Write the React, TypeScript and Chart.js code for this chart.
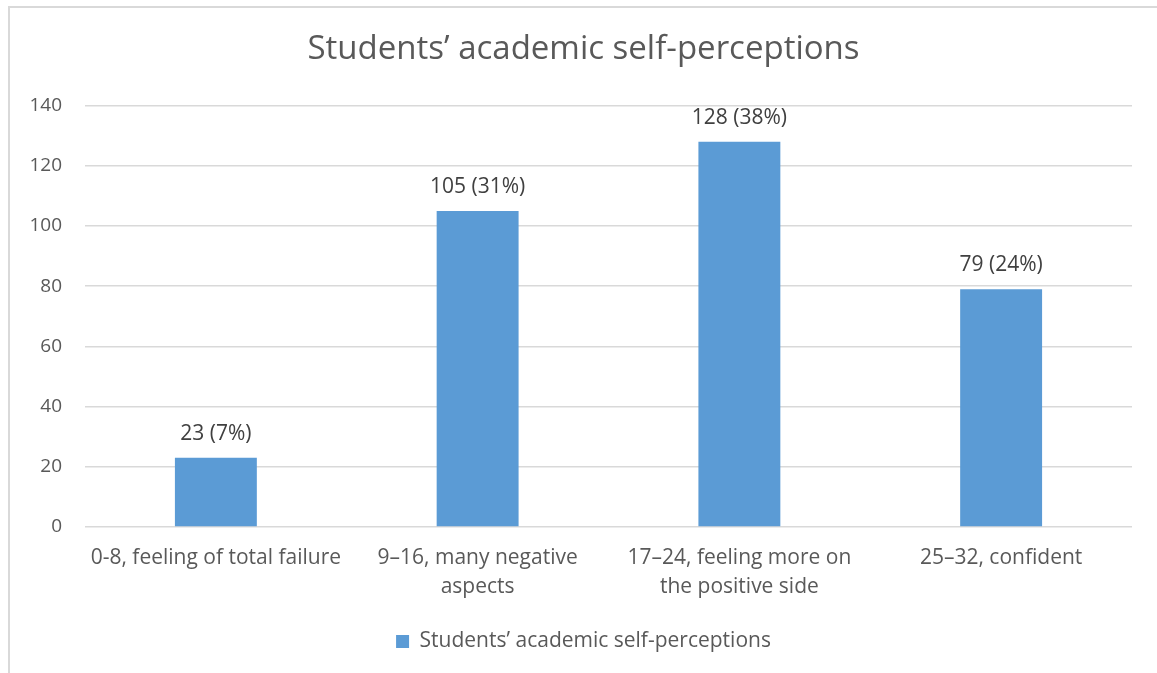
import React, { useEffect, useRef } from "react";
import { Chart, registerables } from "chart.js";

Chart.register(...registerables);

// Score bands (x-axis labels, wrapped onto lines)
const categories: string[][] = [
  ["0-8, feeling of total failure"],
  ["9–16, many negative", "aspects"],
  ["17–24, feeling more on", "the positive side"],
  ["25–32, confident"],
];

const seriesName = "Students’ academic self-perceptions";
const chartTitle = "Students’ academic self-perceptions";

// Number of students in each band
const counts = [23, 105, 128, 79];

// Value-axis range
const yMin = 0;
const yMax = 140;
const yStep = 20;

const FONT = "'Open Sans', sans-serif";
const TEXT = "#595959";
const LABEL = "#404040";
const BAR = "#5B9BD5";
const GRID = "#D9D9D9";
const TEXT_SIZE = 21;
const TICK_SIZE = 19;

// Draws "count (share%)" above each bar
const valueLabels = {
  id: "valueLabels",
  afterDatasetsDraw(chart: any) {
    const { ctx } = chart;
    const total = counts.reduce((a, b) => a + b, 0);
    const meta = chart.getDatasetMeta(0);
    ctx.save();
    ctx.font = `${TEXT_SIZE}px ${FONT}`;
    ctx.fillStyle = LABEL;
    ctx.textAlign = "center";
    ctx.textBaseline = "alphabetic";
    meta.data.forEach((bar: any, i: number) => {
      const v = counts[i];
      const pct = Math.round((v / total) * 100);
      ctx.fillText(`${v} (${pct}%)`, bar.x, bar.y - 18);
    });
    ctx.restore();
  },
};

export default function App() {
  const canvasRef = useRef<HTMLCanvasElement | null>(null);

  useEffect(() => {
    if (!canvasRef.current) return;
    const chart = new Chart(canvasRef.current, {
      type: "bar",
      data: {
        labels: categories,
        datasets: [
          {
            label: seriesName,
            data: counts,
            backgroundColor: BAR,
            borderWidth: 0,
            categoryPercentage: 1,
            barPercentage: 0.313,
          },
        ],
      },
      options: {
        responsive: false,
        animation: false,
        layout: { padding: { left: 0, right: 0, top: 0, bottom: 11 } },
        plugins: {
          title: {
            display: true,
            text: chartTitle,
            color: TEXT,
            font: { family: FONT, size: 33, weight: "normal" },
            padding: { top: 22, bottom: 36 },
          },
          legend: {
            display: true,
            position: "bottom",
            labels: {
              color: TEXT,
              font: { family: FONT, size: TEXT_SIZE },
              boxWidth: 13,
              boxHeight: 13,
            },
          },
          tooltip: { enabled: false },
        },
        scales: {
          x: {
            grid: { display: false, drawTicks: false },
            border: { display: false },
            ticks: {
              color: TEXT,
              font: { family: FONT, size: TEXT_SIZE, lineHeight: 1.38 },
              maxRotation: 0,
              autoSkip: false,
              padding: 17,
            },
            afterFit(scale: any) {
              scale.height = 94;
            },
          },
          y: {
            min: yMin,
            max: yMax,
            grid: { color: GRID, lineWidth: 1.5, drawTicks: false },
            border: { display: false },
            ticks: {
              stepSize: yStep,
              color: TEXT,
              font: { family: FONT, size: TICK_SIZE },
              padding: 23,
            },
            afterFit(scale: any) {
              scale.width = 75;
            },
          },
          // empty margin on the right of the plot area
          yRight: {
            type: "linear",
            position: "right",
            grid: { display: false, drawTicks: false },
            border: { display: false },
            ticks: { display: false },
            afterFit(scale: any) {
              scale.width = 25;
            },
          },
        },
      },
      plugins: [valueLabels],
    });
    return () => chart.destroy();
  }, []);

  return (
    <div
      style={{
        position: "fixed",
        left: 8,
        top: 6,
        width: 1149,
        height: 667,
        boxSizing: "border-box",
        borderLeft: `2px solid ${GRID}`,
        borderTop: `2px solid ${GRID}`,
        background: "#ffffff",
      }}
    >
      <canvas ref={canvasRef} width={1147} height={665} style={{ display: "block" }} />
    </div>
  );
}
